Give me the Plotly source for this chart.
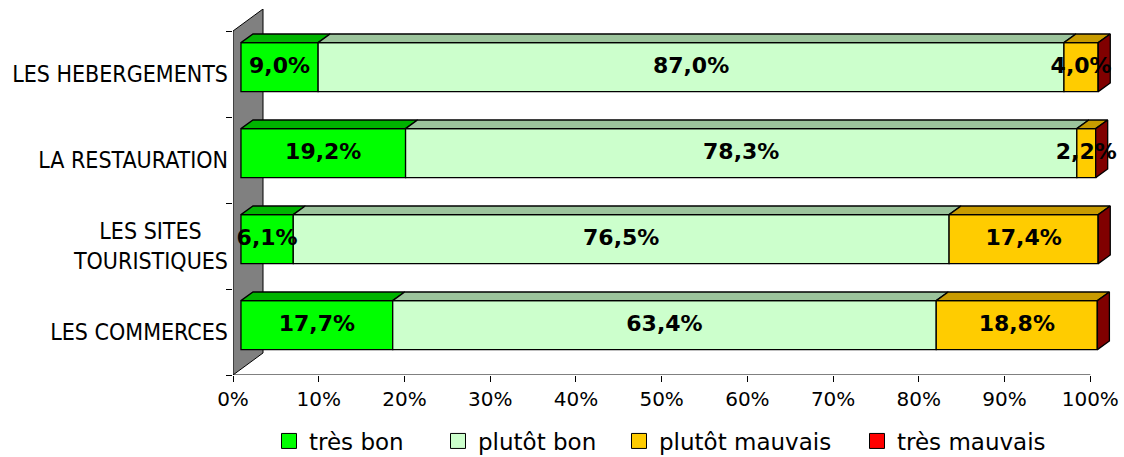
import plotly.graph_objects as go

# ---- data (bottom to top) ----
categories = ["LES COMMERCES",
              "\u00a0\u00a0\u00a0\u00a0LES SITES\u00a0\u00a0\u00a0\u00a0<br>TOURISTIQUES",
              "LA RESTAURATION",
              "LES HEBERGEMENTS"]
tres_bon = [17.7, 6.1, 19.2, 9.0]
plutot_bon = [63.4, 76.5, 78.3, 87.0]
plutot_mauvais = [18.8, 17.4, 2.2, 4.0]
tres_mauvais = [0.0, 0.0, 0.0, 0.0]
series_names = ["très bon", "plutôt bon", "plutôt mauvais", "très mauvais"]
x_ticks = [0, 10, 20, 30, 40, 50, 60, 70, 80, 90, 100]
x_tick_labels = ["0%", "10%", "20%", "30%", "40%", "50%", "60%", "70%", "80%", "90%", "100%"]

# ---- styling ----
front_colors = ["#00FF00", "#CCFFCC", "#FFCC00", "#FF0000"]
top_colors = ["#00B400", "#9CC49C", "#C89B00", "#800000"]
FONT = "DejaVu Sans"
CFONT = "DejaVu Sans Condensed, DejaVu Sans"
LW = 1.3
SX, YO, H, DX, DY = 0.93, 0.08, 0.285, 1.4, 0.1   # 3D offsets (data units)
WDX, WDY = 3.5, 0.256                            # wall depth

n = len(categories)
ypos = [i + YO for i in range(n)]
all_series = [tres_bon, plutot_bon, plutot_mauvais, tres_mauvais]

fig = go.Figure()
cum = [0.0] * n
label_x, label_y, label_t = [], [], []
for name, vals, col, dark in zip(series_names, all_series, front_colors, top_colors):
    base = [c + SX for c in cum]
    fig.add_trace(go.Bar(
        y=ypos, x=vals, base=base, orientation="h", width=2 * H, name=name,
        marker=dict(color=col, line=dict(color="black", width=LW)),
        showlegend=False, hoverinfo="x+name"))
    xs, ys = [], []
    for i in range(n):
        if vals[i] <= 0:
            continue
        x0, x1, yt = base[i], base[i] + vals[i], ypos[i] + H
        xs += [x0, x1, x1 + DX, x0 + DX, x0, None]
        ys += [yt, yt, yt + DY, yt + DY, yt, None]
        label_x.append(x0 + vals[i] / 2)
        label_y.append(ypos[i])
        label_t.append(f"{vals[i]:.1f}%".replace(".", ","))
    if xs:
        fig.add_trace(go.Scatter(x=xs, y=ys, mode="lines", fill="toself", fillcolor=dark,
                                 line=dict(color="black", width=LW), showlegend=False,
                                 hoverinfo="skip"))
    cum = [c + v for c, v in zip(cum, vals)]

# right side faces (colour of last series)
xs, ys = [], []
for i in range(n):
    xe = cum[i] + SX
    xs += [xe, xe + DX, xe + DX, xe, xe, None]
    ys += [ypos[i] - H, ypos[i] - H + DY, ypos[i] + H + DY, ypos[i] + H, ypos[i] - H, None]
fig.add_trace(go.Scatter(x=xs, y=ys, mode="lines", fill="toself", fillcolor=top_colors[3],
                         line=dict(color="black", width=LW), showlegend=False, hoverinfo="skip"))

# value labels
fig.add_trace(go.Scatter(x=label_x, y=label_y, text=label_t, mode="text", cliponaxis=False,
                         textfont=dict(family=FONT, size=22, color="black", weight="bold"),
                         showlegend=False, hoverinfo="skip"))

# legend entries (one legend per entry to place them like the original)
legend_px = [299, 468, 649, 887]
for k, (name, col) in enumerate(zip(series_names, front_colors)):
    lg = "legend" if k == 0 else f"legend{k+1}"
    fig.add_trace(go.Scatter(x=[None], y=[None], mode="markers", name=name, legend=lg,
                             marker=dict(symbol="square", size=15, color=col,
                                         line=dict(color="black", width=1))))

# back wall + x axis line
fig.add_shape(type="path", xref="x", yref="y", layer="below",
              path=f"M 0,-0.5 L 0,3.5 L {WDX},{3.5 + WDY} L {WDX},{-0.5 + WDY} Z",
              fillcolor="#808080", line=dict(color="black", width=1))
fig.add_shape(type="line", xref="x", yref="y", x0=0, x1=100, y0=-0.5, y1=-0.5,
              line=dict(color="black", width=1))

legend_common = dict(orientation="h", xref="container", yref="container", y=1 - 441 / 457,
                     yanchor="middle", xanchor="left", bgcolor="rgba(0,0,0,0)",
                     font=dict(family=FONT, size=23, color="black"), itemclick=False,
                     itemdoubleclick=False)
layout_legends = {}
for k, px in enumerate(legend_px):
    key = "legend" if k == 0 else f"legend{k+1}"
    layout_legends[key] = dict(legend_common, x=(px - 30) / 1124)

fig.update_layout(
    width=1124, height=457,
    margin=dict(l=233, r=8, t=9, b=82, autoexpand=False),
    paper_bgcolor="white", plot_bgcolor="white",
    barmode="overlay",
    xaxis=dict(range=[0, 103], tickvals=x_ticks, ticktext=x_tick_labels, ticks="outside",
               ticklen=6, tickcolor="black", showgrid=False, zeroline=False, showline=False,
               tickfont=dict(family=FONT, size=20, color="black"), fixedrange=True,
               automargin=False),
    yaxis=dict(range=[-0.5, 3.5 + WDY], tickvals=list(range(n)), ticktext=categories,
               ticks="", showgrid=False, zeroline=False, showline=False,
               minor=dict(tickvals=[-0.5, 0.5, 1.5, 2.5, 3.5], ticks="outside", ticklen=6,
                          tickcolor="black", showgrid=False),
               tickfont=dict(family=CFONT, size=23, color="black"), ticklabelstandoff=4,
               fixedrange=True, automargin=False),
    **layout_legends,
)

fig.write_html("out.html", config={"displayModeBar": False},
               post_script="document.body.style.margin='0';")
